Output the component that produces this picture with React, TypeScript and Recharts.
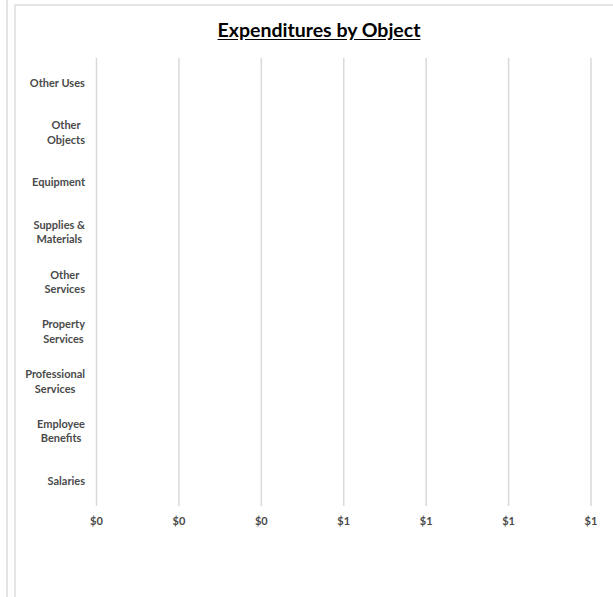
import React from 'react';
import { BarChart, Bar, XAxis, YAxis, CartesianGrid } from 'recharts';

// Expenditure categories, listed bottom to top as they appear on the axis
const categories = [
  'Salaries',
  'Employee Benefits',
  'Professional Services',
  'Property Services',
  'Other Services',
  'Supplies & Materials',
  'Equipment',
  'Other Objects',
  'Other Uses',
];
// Amount spent per category
const amounts = [0, 0, 0, 0, 0, 0, 0, 0, 0];
// Value axis ticks
const xTicks = [0, 0.2, 0.4, 0.6, 0.8, 1.0, 1.2];

const data = categories.map((name, i) => ({ name, amount: amounts[i] }));

const FONT = 'Lato, "Open Sans", sans-serif';
const LABEL_COLOR = '#4a4a4a';
const GRID_COLOR = '#d9d9d9';

const ctx = typeof document !== 'undefined' ? document.createElement('canvas').getContext('2d') : null;
const textWidth = (t: string, font: string) => {
  if (!ctx) return t.length * 6;
  ctx.font = font;
  return ctx.measureText(t).width;
};

const LABEL_FONT = `bold 11px ${FONT}`;
const wrap = (label: string, maxWidth: number) => {
  const words = label.split(' ');
  const lines: string[] = [];
  let cur = '';
  for (const w of words) {
    const next = cur ? `${cur} ${w}` : w;
    if (cur && textWidth(next, LABEL_FONT) > maxWidth) {
      lines.push(cur);
      cur = w;
    } else {
      cur = next;
    }
  }
  if (cur) lines.push(cur);
  return lines;
};

const CategoryTick = (props: any) => {
  const { x, y, payload } = props;
  const lines = wrap(String(payload.value), 64);
  const blockWidth = Math.max(...lines.map((l) => textWidth(l, LABEL_FONT)));
  const cx = x - blockWidth / 2;
  const lineH = 14.5;
  const startY = y - ((lines.length - 1) * lineH) / 2;
  return (
    <g>
      {lines.map((l, i) => (
        <text
          key={i}
          x={cx}
          y={startY + i * lineH}
          dy="0.35em"
          textAnchor="middle"
          fill={LABEL_COLOR}
          style={{ font: LABEL_FONT }}
        >
          {l}
        </text>
      ))}
    </g>
  );
};

const formatMoney = (v: number) => `$${Math.round(v)}`;

const ValueTick = (props: any) => {
  const { x, y, payload } = props;
  return (
    <text
      x={x}
      y={y}
      dy="0.35em"
      textAnchor="middle"
      fill={LABEL_COLOR}
      style={{ font: LABEL_FONT }}
    >
      {formatMoney(payload.value)}
    </text>
  );
};

export default function App() {
  return (
    <div style={{ position: 'absolute', left: 0, top: 0, width: 613, height: 597, overflow: 'hidden', background: '#fff' }}>
      <div style={{ position: 'absolute', left: 6, top: 0, width: 2, height: 597, background: '#e3e3e3' }} />
      <div
        style={{
          position: 'absolute',
          left: 14,
          top: 4,
          width: 640,
          height: 640,
          border: '2px solid #e6e6e6',
          boxSizing: 'border-box',
        }}
      />
      <div
        style={{
          position: 'absolute',
          left: 0,
          top: 18,
          width: 638,
          textAlign: 'center',
          font: `bold 19.5px ${FONT}`,
          color: '#000',
          textDecoration: 'underline',
          textUnderlineOffset: 2,
        }}
      >
        Expenditures by Object
      </div>
      <div style={{ position: 'absolute', left: 0, top: 0 }}>
        <BarChart
          width={613}
          height={597}
          data={data}
          layout="vertical"
          margin={{ top: 58, right: 22, bottom: 61, left: 0 }}
          barCategoryGap="40%"
        >
          <CartesianGrid horizontal={false} stroke={GRID_COLOR} strokeWidth={1.5} />
          <XAxis
            type="number"
            domain={[0, 1.2]}
            ticks={xTicks}
            interval={0}
            axisLine={false}
            tickLine={false}
            tickSize={0}
            tickMargin={15}
            height={30}
            tick={<ValueTick />}
          />
          <YAxis
            type="category"
            dataKey="name"
            reversed
            width={96.5}
            axisLine={false}
            tickLine={false}
            tickSize={0}
            tickMargin={11.5}
            interval={0}
            tick={<CategoryTick />}
          />
          <Bar dataKey="amount" fill="#4472c4" isAnimationActive={false} />
        </BarChart>
      </div>
    </div>
  );
}
